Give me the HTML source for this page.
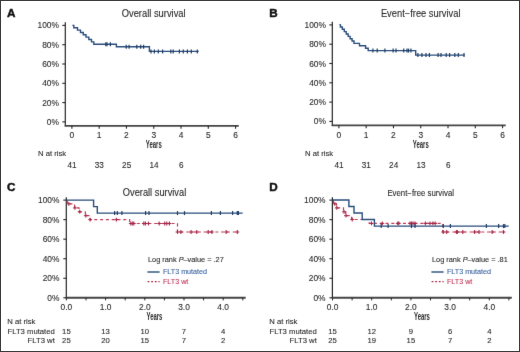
<!DOCTYPE html>
<html><head><meta charset="utf-8"><style>
html,body{margin:0;padding:0;background:#fff;}
.wrap{position:relative;width:520px;height:352px;overflow:hidden;background:#fff;}
.wrap svg{position:absolute;left:0;top:0;will-change:transform;}
text{font-family:"Liberation Sans", sans-serif;}
</style></head><body><div class="wrap">
<svg width="520" height="352" viewBox="0 0 520 352" font-family='"Liberation Sans", sans-serif'>
<defs><filter id="soft" x="0" y="0" width="100%" height="100%" color-interpolation-filters="sRGB"><feConvolveMatrix order="3" kernelMatrix="0 1 0 1 12 1 0 1 0" divisor="16" edgeMode="duplicate"/></filter></defs>
<g filter="url(#soft)">
<rect x="0" y="0" width="520" height="352" fill="#fff"/>
<line x1="65.30" y1="22.20" x2="65.30" y2="126.35" stroke="#262626" stroke-width="1.2" />
<line x1="64.70" y1="125.85" x2="238.75" y2="125.85" stroke="#454545" stroke-width="1.8" />
<line x1="62.30" y1="121.90" x2="65.30" y2="121.90" stroke="#262626" stroke-width="1.1" />
<text x="58.90" y="124.90" font-size="8.4" text-anchor="end" fill="#2a2a2a" stroke="#2a2a2a" stroke-width="0.1" font-weight="normal" >0%</text>
<line x1="62.30" y1="102.60" x2="65.30" y2="102.60" stroke="#262626" stroke-width="1.1" />
<text x="58.90" y="105.60" font-size="8.4" text-anchor="end" fill="#2a2a2a" stroke="#2a2a2a" stroke-width="0.1" font-weight="normal" >20%</text>
<line x1="62.30" y1="83.30" x2="65.30" y2="83.30" stroke="#262626" stroke-width="1.1" />
<text x="58.90" y="86.30" font-size="8.4" text-anchor="end" fill="#2a2a2a" stroke="#2a2a2a" stroke-width="0.1" font-weight="normal" >40%</text>
<line x1="62.30" y1="64.00" x2="65.30" y2="64.00" stroke="#262626" stroke-width="1.1" />
<text x="58.90" y="67.00" font-size="8.4" text-anchor="end" fill="#2a2a2a" stroke="#2a2a2a" stroke-width="0.1" font-weight="normal" >60%</text>
<line x1="62.30" y1="44.70" x2="65.30" y2="44.70" stroke="#262626" stroke-width="1.1" />
<text x="58.90" y="47.70" font-size="8.4" text-anchor="end" fill="#2a2a2a" stroke="#2a2a2a" stroke-width="0.1" font-weight="normal" >80%</text>
<line x1="62.30" y1="25.40" x2="65.30" y2="25.40" stroke="#262626" stroke-width="1.1" />
<text x="58.90" y="28.40" font-size="8.4" text-anchor="end" fill="#2a2a2a" stroke="#2a2a2a" stroke-width="0.1" font-weight="normal" >100%</text>
<line x1="71.90" y1="125.85" x2="71.90" y2="128.65" stroke="#262626" stroke-width="1.1" />
<text x="71.90" y="138.15" font-size="8.4" text-anchor="middle" fill="#2a2a2a" stroke="#2a2a2a" stroke-width="0.1" font-weight="normal" >0</text>
<line x1="99.18" y1="125.85" x2="99.18" y2="128.65" stroke="#262626" stroke-width="1.1" />
<text x="99.18" y="138.15" font-size="8.4" text-anchor="middle" fill="#2a2a2a" stroke="#2a2a2a" stroke-width="0.1" font-weight="normal" >1</text>
<line x1="126.46" y1="125.85" x2="126.46" y2="128.65" stroke="#262626" stroke-width="1.1" />
<text x="126.46" y="138.15" font-size="8.4" text-anchor="middle" fill="#2a2a2a" stroke="#2a2a2a" stroke-width="0.1" font-weight="normal" >2</text>
<line x1="153.74" y1="125.85" x2="153.74" y2="128.65" stroke="#262626" stroke-width="1.1" />
<text x="153.74" y="138.15" font-size="8.4" text-anchor="middle" fill="#2a2a2a" stroke="#2a2a2a" stroke-width="0.1" font-weight="normal" >3</text>
<line x1="181.02" y1="125.85" x2="181.02" y2="128.65" stroke="#262626" stroke-width="1.1" />
<text x="181.02" y="138.15" font-size="8.4" text-anchor="middle" fill="#2a2a2a" stroke="#2a2a2a" stroke-width="0.1" font-weight="normal" >4</text>
<line x1="208.30" y1="125.85" x2="208.30" y2="128.65" stroke="#262626" stroke-width="1.1" />
<text x="208.30" y="138.15" font-size="8.4" text-anchor="middle" fill="#2a2a2a" stroke="#2a2a2a" stroke-width="0.1" font-weight="normal" >5</text>
<line x1="235.58" y1="125.85" x2="235.58" y2="128.65" stroke="#262626" stroke-width="1.1" />
<text x="235.58" y="138.15" font-size="8.4" text-anchor="middle" fill="#2a2a2a" stroke="#2a2a2a" stroke-width="0.1" font-weight="normal" >6</text>
<text x="145.80" y="147.90" font-size="10.2" font-weight="bold" fill="#2a2a2a" textLength="15.9" lengthAdjust="spacingAndGlyphs">Years</text>
<text x="38.00" y="155.80" font-size="7.7" text-anchor="start" fill="#2a2a2a" stroke="#2a2a2a" stroke-width="0.1" font-weight="normal" >N at risk</text>
<text x="72.10" y="167.60" font-size="8.2" text-anchor="middle" fill="#2a2a2a" stroke="#2a2a2a" stroke-width="0.1" font-weight="normal" >41</text>
<text x="99.38" y="167.60" font-size="8.2" text-anchor="middle" fill="#2a2a2a" stroke="#2a2a2a" stroke-width="0.1" font-weight="normal" >33</text>
<text x="126.66" y="167.60" font-size="8.2" text-anchor="middle" fill="#2a2a2a" stroke="#2a2a2a" stroke-width="0.1" font-weight="normal" >25</text>
<text x="153.94" y="167.60" font-size="8.2" text-anchor="middle" fill="#2a2a2a" stroke="#2a2a2a" stroke-width="0.1" font-weight="normal" >14</text>
<text x="181.22" y="167.60" font-size="8.2" text-anchor="middle" fill="#2a2a2a" stroke="#2a2a2a" stroke-width="0.1" font-weight="normal" >6</text>
<text x="121.70" y="17.10" font-size="10.0" text-anchor="start" fill="#2a2a2a" stroke="#2a2a2a" stroke-width="0.1" font-weight="normal"  textLength="63.9" lengthAdjust="spacingAndGlyphs">Overall survival</text>
<path d="M72.40,25.40 H73.80 V27.75 H77.50 V30.10 H80.50 V32.45 H83.30 V34.80 H86.00 V37.15 H88.80 V39.50 H91.50 V41.85 H93.80 V44.20 H116.40 V46.70 H149.40 V51.40 H198.75 V51.40" fill="none" stroke="#2a4d7c" stroke-width="1.4"/>
<line x1="105.80" y1="42.20" x2="105.80" y2="46.20" stroke="#1f3d66" stroke-width="1.2" />
<line x1="107.00" y1="42.20" x2="107.00" y2="46.20" stroke="#1f3d66" stroke-width="1.2" />
<line x1="110.40" y1="42.20" x2="110.40" y2="46.20" stroke="#1f3d66" stroke-width="1.2" />
<line x1="126.25" y1="44.70" x2="126.25" y2="48.70" stroke="#1f3d66" stroke-width="1.2" />
<line x1="129.10" y1="44.70" x2="129.10" y2="48.70" stroke="#1f3d66" stroke-width="1.2" />
<line x1="136.80" y1="44.70" x2="136.80" y2="48.70" stroke="#1f3d66" stroke-width="1.2" />
<line x1="140.70" y1="44.70" x2="140.70" y2="48.70" stroke="#1f3d66" stroke-width="1.2" />
<line x1="143.60" y1="44.70" x2="143.60" y2="48.70" stroke="#1f3d66" stroke-width="1.2" />
<line x1="151.00" y1="49.40" x2="151.00" y2="53.40" stroke="#1f3d66" stroke-width="1.2" />
<line x1="154.40" y1="49.40" x2="154.40" y2="53.40" stroke="#1f3d66" stroke-width="1.2" />
<line x1="158.30" y1="49.40" x2="158.30" y2="53.40" stroke="#1f3d66" stroke-width="1.2" />
<line x1="162.60" y1="49.40" x2="162.60" y2="53.40" stroke="#1f3d66" stroke-width="1.2" />
<line x1="170.80" y1="49.40" x2="170.80" y2="53.40" stroke="#1f3d66" stroke-width="1.2" />
<line x1="173.20" y1="49.40" x2="173.20" y2="53.40" stroke="#1f3d66" stroke-width="1.2" />
<line x1="179.40" y1="49.40" x2="179.40" y2="53.40" stroke="#1f3d66" stroke-width="1.2" />
<line x1="183.30" y1="49.40" x2="183.30" y2="53.40" stroke="#1f3d66" stroke-width="1.2" />
<line x1="187.40" y1="49.40" x2="187.40" y2="53.40" stroke="#1f3d66" stroke-width="1.2" />
<line x1="191.30" y1="49.40" x2="191.30" y2="53.40" stroke="#1f3d66" stroke-width="1.2" />
<line x1="197.30" y1="49.40" x2="197.30" y2="53.40" stroke="#1f3d66" stroke-width="1.2" />
<line x1="332.30" y1="21.70" x2="332.30" y2="125.95" stroke="#262626" stroke-width="1.2" />
<line x1="331.70" y1="125.45" x2="505.75" y2="125.45" stroke="#454545" stroke-width="1.8" />
<line x1="329.30" y1="121.40" x2="332.30" y2="121.40" stroke="#262626" stroke-width="1.1" />
<text x="325.90" y="124.40" font-size="8.4" text-anchor="end" fill="#2a2a2a" stroke="#2a2a2a" stroke-width="0.1" font-weight="normal" >0%</text>
<line x1="329.30" y1="102.10" x2="332.30" y2="102.10" stroke="#262626" stroke-width="1.1" />
<text x="325.90" y="105.10" font-size="8.4" text-anchor="end" fill="#2a2a2a" stroke="#2a2a2a" stroke-width="0.1" font-weight="normal" >20%</text>
<line x1="329.30" y1="82.80" x2="332.30" y2="82.80" stroke="#262626" stroke-width="1.1" />
<text x="325.90" y="85.80" font-size="8.4" text-anchor="end" fill="#2a2a2a" stroke="#2a2a2a" stroke-width="0.1" font-weight="normal" >40%</text>
<line x1="329.30" y1="63.50" x2="332.30" y2="63.50" stroke="#262626" stroke-width="1.1" />
<text x="325.90" y="66.50" font-size="8.4" text-anchor="end" fill="#2a2a2a" stroke="#2a2a2a" stroke-width="0.1" font-weight="normal" >60%</text>
<line x1="329.30" y1="44.20" x2="332.30" y2="44.20" stroke="#262626" stroke-width="1.1" />
<text x="325.90" y="47.20" font-size="8.4" text-anchor="end" fill="#2a2a2a" stroke="#2a2a2a" stroke-width="0.1" font-weight="normal" >80%</text>
<line x1="329.30" y1="24.90" x2="332.30" y2="24.90" stroke="#262626" stroke-width="1.1" />
<text x="325.90" y="27.90" font-size="8.4" text-anchor="end" fill="#2a2a2a" stroke="#2a2a2a" stroke-width="0.1" font-weight="normal" >100%</text>
<line x1="338.90" y1="125.45" x2="338.90" y2="128.25" stroke="#262626" stroke-width="1.1" />
<text x="338.90" y="137.75" font-size="8.4" text-anchor="middle" fill="#2a2a2a" stroke="#2a2a2a" stroke-width="0.1" font-weight="normal" >0</text>
<line x1="366.18" y1="125.45" x2="366.18" y2="128.25" stroke="#262626" stroke-width="1.1" />
<text x="366.18" y="137.75" font-size="8.4" text-anchor="middle" fill="#2a2a2a" stroke="#2a2a2a" stroke-width="0.1" font-weight="normal" >1</text>
<line x1="393.46" y1="125.45" x2="393.46" y2="128.25" stroke="#262626" stroke-width="1.1" />
<text x="393.46" y="137.75" font-size="8.4" text-anchor="middle" fill="#2a2a2a" stroke="#2a2a2a" stroke-width="0.1" font-weight="normal" >2</text>
<line x1="420.74" y1="125.45" x2="420.74" y2="128.25" stroke="#262626" stroke-width="1.1" />
<text x="420.74" y="137.75" font-size="8.4" text-anchor="middle" fill="#2a2a2a" stroke="#2a2a2a" stroke-width="0.1" font-weight="normal" >3</text>
<line x1="448.02" y1="125.45" x2="448.02" y2="128.25" stroke="#262626" stroke-width="1.1" />
<text x="448.02" y="137.75" font-size="8.4" text-anchor="middle" fill="#2a2a2a" stroke="#2a2a2a" stroke-width="0.1" font-weight="normal" >4</text>
<line x1="475.30" y1="125.45" x2="475.30" y2="128.25" stroke="#262626" stroke-width="1.1" />
<text x="475.30" y="137.75" font-size="8.4" text-anchor="middle" fill="#2a2a2a" stroke="#2a2a2a" stroke-width="0.1" font-weight="normal" >5</text>
<line x1="502.58" y1="125.45" x2="502.58" y2="128.25" stroke="#262626" stroke-width="1.1" />
<text x="502.58" y="137.75" font-size="8.4" text-anchor="middle" fill="#2a2a2a" stroke="#2a2a2a" stroke-width="0.1" font-weight="normal" >6</text>
<text x="412.80" y="147.90" font-size="10.2" font-weight="bold" fill="#2a2a2a" textLength="15.9" lengthAdjust="spacingAndGlyphs">Years</text>
<text x="305.00" y="155.80" font-size="7.7" text-anchor="start" fill="#2a2a2a" stroke="#2a2a2a" stroke-width="0.1" font-weight="normal" >N at risk</text>
<text x="339.10" y="167.60" font-size="8.2" text-anchor="middle" fill="#2a2a2a" stroke="#2a2a2a" stroke-width="0.1" font-weight="normal" >41</text>
<text x="366.38" y="167.60" font-size="8.2" text-anchor="middle" fill="#2a2a2a" stroke="#2a2a2a" stroke-width="0.1" font-weight="normal" >31</text>
<text x="393.66" y="167.60" font-size="8.2" text-anchor="middle" fill="#2a2a2a" stroke="#2a2a2a" stroke-width="0.1" font-weight="normal" >24</text>
<text x="420.94" y="167.60" font-size="8.2" text-anchor="middle" fill="#2a2a2a" stroke="#2a2a2a" stroke-width="0.1" font-weight="normal" >13</text>
<text x="448.22" y="167.60" font-size="8.2" text-anchor="middle" fill="#2a2a2a" stroke="#2a2a2a" stroke-width="0.1" font-weight="normal" >6</text>
<text x="380.90" y="17.10" font-size="10.0" text-anchor="start" fill="#2a2a2a" stroke="#2a2a2a" stroke-width="0.1" font-weight="normal"  textLength="79.6" lengthAdjust="spacingAndGlyphs">Event−free survival</text>
<path d="M339.50,24.60 H340.40 V26.95 H342.34 V29.30 H344.29 V31.65 H346.23 V34.00 H348.17 V36.35 H350.11 V38.70 H352.06 V41.05 H354.00 V43.40 H359.50 V45.80 H365.60 V48.20 H368.20 V50.60 H415.70 V55.10 H464.60 V55.10" fill="none" stroke="#2a4d7c" stroke-width="1.4"/>
<line x1="372.90" y1="48.60" x2="372.90" y2="52.60" stroke="#1f3d66" stroke-width="1.2" />
<line x1="377.20" y1="48.60" x2="377.20" y2="52.60" stroke="#1f3d66" stroke-width="1.2" />
<line x1="384.90" y1="48.60" x2="384.90" y2="52.60" stroke="#1f3d66" stroke-width="1.2" />
<line x1="393.10" y1="48.60" x2="393.10" y2="52.60" stroke="#1f3d66" stroke-width="1.2" />
<line x1="396.00" y1="48.60" x2="396.00" y2="52.60" stroke="#1f3d66" stroke-width="1.2" />
<line x1="403.70" y1="48.60" x2="403.70" y2="52.60" stroke="#1f3d66" stroke-width="1.2" />
<line x1="407.00" y1="48.60" x2="407.00" y2="52.60" stroke="#1f3d66" stroke-width="1.2" />
<line x1="408.50" y1="48.60" x2="408.50" y2="52.60" stroke="#1f3d66" stroke-width="1.2" />
<line x1="410.90" y1="48.60" x2="410.90" y2="52.60" stroke="#1f3d66" stroke-width="1.2" />
<line x1="417.90" y1="53.10" x2="417.90" y2="57.10" stroke="#1f3d66" stroke-width="1.2" />
<line x1="421.90" y1="53.10" x2="421.90" y2="57.10" stroke="#1f3d66" stroke-width="1.2" />
<line x1="426.00" y1="53.10" x2="426.00" y2="57.10" stroke="#1f3d66" stroke-width="1.2" />
<line x1="429.40" y1="53.10" x2="429.40" y2="57.10" stroke="#1f3d66" stroke-width="1.2" />
<line x1="438.10" y1="53.10" x2="438.10" y2="57.10" stroke="#1f3d66" stroke-width="1.2" />
<line x1="441.00" y1="53.10" x2="441.00" y2="57.10" stroke="#1f3d66" stroke-width="1.2" />
<line x1="446.20" y1="53.10" x2="446.20" y2="57.10" stroke="#1f3d66" stroke-width="1.2" />
<line x1="449.60" y1="53.10" x2="449.60" y2="57.10" stroke="#1f3d66" stroke-width="1.2" />
<line x1="454.80" y1="53.10" x2="454.80" y2="57.10" stroke="#1f3d66" stroke-width="1.2" />
<line x1="458.30" y1="53.10" x2="458.30" y2="57.10" stroke="#1f3d66" stroke-width="1.2" />
<line x1="464.00" y1="53.10" x2="464.00" y2="57.10" stroke="#1f3d66" stroke-width="1.2" />
<line x1="66.30" y1="197.20" x2="66.30" y2="298.30" stroke="#262626" stroke-width="1.2" />
<line x1="65.70" y1="297.80" x2="245.70" y2="297.80" stroke="#454545" stroke-width="1.9" />
<line x1="63.30" y1="297.80" x2="66.30" y2="297.80" stroke="#262626" stroke-width="1.1" />
<text x="59.40" y="300.80" font-size="8.4" text-anchor="end" fill="#2a2a2a" stroke="#2a2a2a" stroke-width="0.1" font-weight="normal" >0%</text>
<line x1="63.30" y1="278.26" x2="66.30" y2="278.26" stroke="#262626" stroke-width="1.1" />
<text x="59.40" y="281.26" font-size="8.4" text-anchor="end" fill="#2a2a2a" stroke="#2a2a2a" stroke-width="0.1" font-weight="normal" >20%</text>
<line x1="63.30" y1="258.72" x2="66.30" y2="258.72" stroke="#262626" stroke-width="1.1" />
<text x="59.40" y="261.72" font-size="8.4" text-anchor="end" fill="#2a2a2a" stroke="#2a2a2a" stroke-width="0.1" font-weight="normal" >40%</text>
<line x1="63.30" y1="239.18" x2="66.30" y2="239.18" stroke="#262626" stroke-width="1.1" />
<text x="59.40" y="242.18" font-size="8.4" text-anchor="end" fill="#2a2a2a" stroke="#2a2a2a" stroke-width="0.1" font-weight="normal" >60%</text>
<line x1="63.30" y1="219.64" x2="66.30" y2="219.64" stroke="#262626" stroke-width="1.1" />
<text x="59.40" y="222.64" font-size="8.4" text-anchor="end" fill="#2a2a2a" stroke="#2a2a2a" stroke-width="0.1" font-weight="normal" >80%</text>
<line x1="63.30" y1="200.10" x2="66.30" y2="200.10" stroke="#262626" stroke-width="1.1" />
<text x="59.40" y="203.10" font-size="8.4" text-anchor="end" fill="#2a2a2a" stroke="#2a2a2a" stroke-width="0.1" font-weight="normal" >100%</text>
<line x1="66.40" y1="297.80" x2="66.40" y2="300.40" stroke="#262626" stroke-width="1.0" />
<line x1="86.00" y1="297.80" x2="86.00" y2="300.40" stroke="#262626" stroke-width="1.0" />
<line x1="105.60" y1="297.80" x2="105.60" y2="300.40" stroke="#262626" stroke-width="1.0" />
<line x1="125.20" y1="297.80" x2="125.20" y2="300.40" stroke="#262626" stroke-width="1.0" />
<line x1="144.80" y1="297.80" x2="144.80" y2="300.40" stroke="#262626" stroke-width="1.0" />
<line x1="164.40" y1="297.80" x2="164.40" y2="300.40" stroke="#262626" stroke-width="1.0" />
<line x1="184.00" y1="297.80" x2="184.00" y2="300.40" stroke="#262626" stroke-width="1.0" />
<line x1="203.60" y1="297.80" x2="203.60" y2="300.40" stroke="#262626" stroke-width="1.0" />
<line x1="223.20" y1="297.80" x2="223.20" y2="300.40" stroke="#262626" stroke-width="1.0" />
<line x1="242.80" y1="297.80" x2="242.80" y2="300.40" stroke="#262626" stroke-width="1.0" />
<text x="66.40" y="309.90" font-size="8.4" text-anchor="middle" fill="#2a2a2a" stroke="#2a2a2a" stroke-width="0.1" font-weight="normal" >0.0</text>
<text x="105.60" y="309.90" font-size="8.4" text-anchor="middle" fill="#2a2a2a" stroke="#2a2a2a" stroke-width="0.1" font-weight="normal" >1.0</text>
<text x="144.80" y="309.90" font-size="8.4" text-anchor="middle" fill="#2a2a2a" stroke="#2a2a2a" stroke-width="0.1" font-weight="normal" >2.0</text>
<text x="184.00" y="309.90" font-size="8.4" text-anchor="middle" fill="#2a2a2a" stroke="#2a2a2a" stroke-width="0.1" font-weight="normal" >3.0</text>
<text x="223.20" y="309.90" font-size="8.4" text-anchor="middle" fill="#2a2a2a" stroke="#2a2a2a" stroke-width="0.1" font-weight="normal" >4.0</text>
<text x="146.50" y="319.80" font-size="10.2" font-weight="bold" fill="#2a2a2a" textLength="15.9" lengthAdjust="spacingAndGlyphs">Years</text>
<text x="122.80" y="196.00" font-size="10.0" text-anchor="start" fill="#2a2a2a" stroke="#2a2a2a" stroke-width="0.1" font-weight="normal"  textLength="63.4" lengthAdjust="spacingAndGlyphs">Overall survival</text>
<text x="148.00" y="262.3" font-size="7.35" fill="#2a2a2a" stroke="#2a2a2a" stroke-width="0.1">Log rank <tspan font-style="italic">P</tspan>–value = .27</text>
<line x1="147.40" y1="272.00" x2="159.60" y2="272.00" stroke="#2a4d7c" stroke-width="1.4" />
<text x="162.90" y="274.20" font-size="7.2" text-anchor="start" fill="#3c64a0" stroke="#3c64a0" stroke-width="0.1" font-weight="normal" >FLT3 mutated</text>
<line x1="147.60" y1="281.60" x2="159.60" y2="281.60" stroke="#a42848" stroke-width="1.4" stroke-dasharray="1.8 1.8"/>
<text x="162.90" y="283.80" font-size="7.2" text-anchor="start" fill="#c2375a" stroke="#c2375a" stroke-width="0.1" font-weight="normal" >FLT3 wt</text>
<text x="7.20" y="324.10" font-size="7.7" text-anchor="start" fill="#2a2a2a" stroke="#2a2a2a" stroke-width="0.1" font-weight="normal" >N at risk</text>
<text x="54.80" y="333.60" font-size="7.7" text-anchor="end" fill="#2a2a2a" stroke="#2a2a2a" stroke-width="0.1" font-weight="normal" >FLT3 mutated</text>
<text x="54.80" y="342.90" font-size="7.7" text-anchor="end" fill="#2a2a2a" stroke="#2a2a2a" stroke-width="0.1" font-weight="normal" >FLT3 wt</text>
<text x="66.40" y="333.60" font-size="7.7" text-anchor="middle" fill="#2a2a2a" stroke="#2a2a2a" stroke-width="0.1" font-weight="normal" >15</text>
<text x="66.40" y="342.90" font-size="7.7" text-anchor="middle" fill="#2a2a2a" stroke="#2a2a2a" stroke-width="0.1" font-weight="normal" >25</text>
<text x="105.60" y="333.60" font-size="7.7" text-anchor="middle" fill="#2a2a2a" stroke="#2a2a2a" stroke-width="0.1" font-weight="normal" >13</text>
<text x="105.60" y="342.90" font-size="7.7" text-anchor="middle" fill="#2a2a2a" stroke="#2a2a2a" stroke-width="0.1" font-weight="normal" >20</text>
<text x="144.80" y="333.60" font-size="7.7" text-anchor="middle" fill="#2a2a2a" stroke="#2a2a2a" stroke-width="0.1" font-weight="normal" >10</text>
<text x="144.80" y="342.90" font-size="7.7" text-anchor="middle" fill="#2a2a2a" stroke="#2a2a2a" stroke-width="0.1" font-weight="normal" >15</text>
<text x="184.00" y="333.60" font-size="7.7" text-anchor="middle" fill="#2a2a2a" stroke="#2a2a2a" stroke-width="0.1" font-weight="normal" >7</text>
<text x="184.00" y="342.90" font-size="7.7" text-anchor="middle" fill="#2a2a2a" stroke="#2a2a2a" stroke-width="0.1" font-weight="normal" >7</text>
<text x="223.20" y="333.60" font-size="7.7" text-anchor="middle" fill="#2a2a2a" stroke="#2a2a2a" stroke-width="0.1" font-weight="normal" >4</text>
<text x="223.20" y="342.90" font-size="7.7" text-anchor="middle" fill="#2a2a2a" stroke="#2a2a2a" stroke-width="0.1" font-weight="normal" >2</text>
<path d="M66.40,200.10 H67.30 V203.90 H74.60 V207.90 H79.00 V211.80 H85.30 V215.70 H89.80 V219.60 H129.60 V223.50 H177.50 V232.00 H238.40 V232.00" fill="none" stroke="#c2375a" stroke-width="1.2" stroke-dasharray="3 2.8" stroke-dashoffset="-1.0"/>
<line x1="68.80" y1="201.90" x2="68.80" y2="205.70" stroke="#a42848" stroke-width="1.1" />
<line x1="66.90" y1="203.80" x2="70.70" y2="203.80" stroke="#a42848" stroke-width="1.1" />
<line x1="74.90" y1="206.00" x2="74.90" y2="209.80" stroke="#a42848" stroke-width="1.1" />
<line x1="73.00" y1="207.90" x2="76.80" y2="207.90" stroke="#a42848" stroke-width="1.1" />
<line x1="79.70" y1="209.80" x2="79.70" y2="213.60" stroke="#a42848" stroke-width="1.1" />
<line x1="77.80" y1="211.70" x2="81.60" y2="211.70" stroke="#a42848" stroke-width="1.1" />
<line x1="85.80" y1="213.80" x2="85.80" y2="217.60" stroke="#a42848" stroke-width="1.1" />
<line x1="83.90" y1="215.70" x2="87.70" y2="215.70" stroke="#a42848" stroke-width="1.1" />
<line x1="90.20" y1="217.70" x2="90.20" y2="221.50" stroke="#a42848" stroke-width="1.1" />
<line x1="88.30" y1="219.60" x2="92.10" y2="219.60" stroke="#a42848" stroke-width="1.1" />
<line x1="116.40" y1="217.70" x2="116.40" y2="221.50" stroke="#a42848" stroke-width="1.1" />
<line x1="114.50" y1="219.60" x2="118.30" y2="219.60" stroke="#a42848" stroke-width="1.1" />
<line x1="130.80" y1="221.60" x2="130.80" y2="225.40" stroke="#a42848" stroke-width="1.1" />
<line x1="128.90" y1="223.50" x2="132.70" y2="223.50" stroke="#a42848" stroke-width="1.1" />
<line x1="132.30" y1="221.60" x2="132.30" y2="225.40" stroke="#a42848" stroke-width="1.1" />
<line x1="130.40" y1="223.50" x2="134.20" y2="223.50" stroke="#a42848" stroke-width="1.1" />
<line x1="133.80" y1="221.60" x2="133.80" y2="225.40" stroke="#a42848" stroke-width="1.1" />
<line x1="131.90" y1="223.50" x2="135.70" y2="223.50" stroke="#a42848" stroke-width="1.1" />
<line x1="143.80" y1="221.60" x2="143.80" y2="225.40" stroke="#a42848" stroke-width="1.1" />
<line x1="141.90" y1="223.50" x2="145.70" y2="223.50" stroke="#a42848" stroke-width="1.1" />
<line x1="145.40" y1="221.60" x2="145.40" y2="225.40" stroke="#a42848" stroke-width="1.1" />
<line x1="143.50" y1="223.50" x2="147.30" y2="223.50" stroke="#a42848" stroke-width="1.1" />
<line x1="148.50" y1="221.60" x2="148.50" y2="225.40" stroke="#a42848" stroke-width="1.1" />
<line x1="146.60" y1="223.50" x2="150.40" y2="223.50" stroke="#a42848" stroke-width="1.1" />
<line x1="159.20" y1="221.60" x2="159.20" y2="225.40" stroke="#a42848" stroke-width="1.1" />
<line x1="157.30" y1="223.50" x2="161.10" y2="223.50" stroke="#a42848" stroke-width="1.1" />
<line x1="164.70" y1="221.60" x2="164.70" y2="225.40" stroke="#a42848" stroke-width="1.1" />
<line x1="162.80" y1="223.50" x2="166.60" y2="223.50" stroke="#a42848" stroke-width="1.1" />
<line x1="166.80" y1="221.60" x2="166.80" y2="225.40" stroke="#a42848" stroke-width="1.1" />
<line x1="164.90" y1="223.50" x2="168.70" y2="223.50" stroke="#a42848" stroke-width="1.1" />
<line x1="169.40" y1="221.60" x2="169.40" y2="225.40" stroke="#a42848" stroke-width="1.1" />
<line x1="167.50" y1="223.50" x2="171.30" y2="223.50" stroke="#a42848" stroke-width="1.1" />
<line x1="177.50" y1="230.10" x2="177.50" y2="233.90" stroke="#a42848" stroke-width="1.1" />
<line x1="175.60" y1="232.00" x2="179.40" y2="232.00" stroke="#a42848" stroke-width="1.1" />
<line x1="180.90" y1="230.10" x2="180.90" y2="233.90" stroke="#a42848" stroke-width="1.1" />
<line x1="179.00" y1="232.00" x2="182.80" y2="232.00" stroke="#a42848" stroke-width="1.1" />
<line x1="191.10" y1="230.10" x2="191.10" y2="233.90" stroke="#a42848" stroke-width="1.1" />
<line x1="189.20" y1="232.00" x2="193.00" y2="232.00" stroke="#a42848" stroke-width="1.1" />
<line x1="196.70" y1="230.10" x2="196.70" y2="233.90" stroke="#a42848" stroke-width="1.1" />
<line x1="194.80" y1="232.00" x2="198.60" y2="232.00" stroke="#a42848" stroke-width="1.1" />
<line x1="208.20" y1="230.10" x2="208.20" y2="233.90" stroke="#a42848" stroke-width="1.1" />
<line x1="206.30" y1="232.00" x2="210.10" y2="232.00" stroke="#a42848" stroke-width="1.1" />
<line x1="211.90" y1="230.10" x2="211.90" y2="233.90" stroke="#a42848" stroke-width="1.1" />
<line x1="210.00" y1="232.00" x2="213.80" y2="232.00" stroke="#a42848" stroke-width="1.1" />
<line x1="226.20" y1="230.10" x2="226.20" y2="233.90" stroke="#a42848" stroke-width="1.1" />
<line x1="224.30" y1="232.00" x2="228.10" y2="232.00" stroke="#a42848" stroke-width="1.1" />
<line x1="237.30" y1="230.10" x2="237.30" y2="233.90" stroke="#a42848" stroke-width="1.1" />
<line x1="235.40" y1="232.00" x2="239.20" y2="232.00" stroke="#a42848" stroke-width="1.1" />
<path d="M66.30,200.10 H93.60 V206.60 H97.30 V213.10 H242.60 V213.10" fill="none" stroke="#2a4d7c" stroke-width="1.4"/>
<line x1="114.60" y1="211.10" x2="114.60" y2="215.10" stroke="#1f3d66" stroke-width="1.2" />
<line x1="117.30" y1="211.10" x2="117.30" y2="215.10" stroke="#1f3d66" stroke-width="1.2" />
<line x1="121.90" y1="211.10" x2="121.90" y2="215.10" stroke="#1f3d66" stroke-width="1.2" />
<line x1="145.60" y1="211.10" x2="145.60" y2="215.10" stroke="#1f3d66" stroke-width="1.2" />
<line x1="149.00" y1="211.10" x2="149.00" y2="215.10" stroke="#1f3d66" stroke-width="1.2" />
<line x1="177.50" y1="211.10" x2="177.50" y2="215.10" stroke="#1f3d66" stroke-width="1.2" />
<line x1="184.50" y1="211.10" x2="184.50" y2="215.10" stroke="#1f3d66" stroke-width="1.2" />
<line x1="211.40" y1="211.10" x2="211.40" y2="215.10" stroke="#1f3d66" stroke-width="1.2" />
<line x1="220.40" y1="211.10" x2="220.40" y2="215.10" stroke="#1f3d66" stroke-width="1.2" />
<line x1="232.60" y1="211.10" x2="232.60" y2="215.10" stroke="#1f3d66" stroke-width="1.2" />
<line x1="237.30" y1="211.10" x2="237.30" y2="215.10" stroke="#1f3d66" stroke-width="1.2" />
<line x1="238.40" y1="211.10" x2="238.40" y2="215.10" stroke="#1f3d66" stroke-width="1.2" />
<line x1="332.40" y1="197.20" x2="332.40" y2="298.30" stroke="#262626" stroke-width="1.2" />
<line x1="331.80" y1="297.80" x2="511.80" y2="297.80" stroke="#454545" stroke-width="1.9" />
<line x1="329.40" y1="297.80" x2="332.40" y2="297.80" stroke="#262626" stroke-width="1.1" />
<text x="325.50" y="300.80" font-size="8.4" text-anchor="end" fill="#2a2a2a" stroke="#2a2a2a" stroke-width="0.1" font-weight="normal" >0%</text>
<line x1="329.40" y1="278.26" x2="332.40" y2="278.26" stroke="#262626" stroke-width="1.1" />
<text x="325.50" y="281.26" font-size="8.4" text-anchor="end" fill="#2a2a2a" stroke="#2a2a2a" stroke-width="0.1" font-weight="normal" >20%</text>
<line x1="329.40" y1="258.72" x2="332.40" y2="258.72" stroke="#262626" stroke-width="1.1" />
<text x="325.50" y="261.72" font-size="8.4" text-anchor="end" fill="#2a2a2a" stroke="#2a2a2a" stroke-width="0.1" font-weight="normal" >40%</text>
<line x1="329.40" y1="239.18" x2="332.40" y2="239.18" stroke="#262626" stroke-width="1.1" />
<text x="325.50" y="242.18" font-size="8.4" text-anchor="end" fill="#2a2a2a" stroke="#2a2a2a" stroke-width="0.1" font-weight="normal" >60%</text>
<line x1="329.40" y1="219.64" x2="332.40" y2="219.64" stroke="#262626" stroke-width="1.1" />
<text x="325.50" y="222.64" font-size="8.4" text-anchor="end" fill="#2a2a2a" stroke="#2a2a2a" stroke-width="0.1" font-weight="normal" >80%</text>
<line x1="329.40" y1="200.10" x2="332.40" y2="200.10" stroke="#262626" stroke-width="1.1" />
<text x="325.50" y="203.10" font-size="8.4" text-anchor="end" fill="#2a2a2a" stroke="#2a2a2a" stroke-width="0.1" font-weight="normal" >100%</text>
<line x1="332.50" y1="297.80" x2="332.50" y2="300.40" stroke="#262626" stroke-width="1.0" />
<line x1="352.10" y1="297.80" x2="352.10" y2="300.40" stroke="#262626" stroke-width="1.0" />
<line x1="371.70" y1="297.80" x2="371.70" y2="300.40" stroke="#262626" stroke-width="1.0" />
<line x1="391.30" y1="297.80" x2="391.30" y2="300.40" stroke="#262626" stroke-width="1.0" />
<line x1="410.90" y1="297.80" x2="410.90" y2="300.40" stroke="#262626" stroke-width="1.0" />
<line x1="430.50" y1="297.80" x2="430.50" y2="300.40" stroke="#262626" stroke-width="1.0" />
<line x1="450.10" y1="297.80" x2="450.10" y2="300.40" stroke="#262626" stroke-width="1.0" />
<line x1="469.70" y1="297.80" x2="469.70" y2="300.40" stroke="#262626" stroke-width="1.0" />
<line x1="489.30" y1="297.80" x2="489.30" y2="300.40" stroke="#262626" stroke-width="1.0" />
<line x1="508.90" y1="297.80" x2="508.90" y2="300.40" stroke="#262626" stroke-width="1.0" />
<text x="332.50" y="309.90" font-size="8.4" text-anchor="middle" fill="#2a2a2a" stroke="#2a2a2a" stroke-width="0.1" font-weight="normal" >0.0</text>
<text x="371.70" y="309.90" font-size="8.4" text-anchor="middle" fill="#2a2a2a" stroke="#2a2a2a" stroke-width="0.1" font-weight="normal" >1.0</text>
<text x="410.90" y="309.90" font-size="8.4" text-anchor="middle" fill="#2a2a2a" stroke="#2a2a2a" stroke-width="0.1" font-weight="normal" >2.0</text>
<text x="450.10" y="309.90" font-size="8.4" text-anchor="middle" fill="#2a2a2a" stroke="#2a2a2a" stroke-width="0.1" font-weight="normal" >3.0</text>
<text x="489.30" y="309.90" font-size="8.4" text-anchor="middle" fill="#2a2a2a" stroke="#2a2a2a" stroke-width="0.1" font-weight="normal" >4.0</text>
<text x="414.00" y="319.80" font-size="10.2" font-weight="bold" fill="#2a2a2a" textLength="15.9" lengthAdjust="spacingAndGlyphs">Years</text>
<text x="387.40" y="196.00" font-size="8.2" text-anchor="start" fill="#2a2a2a" stroke="#2a2a2a" stroke-width="0.1" font-weight="normal"  textLength="66.6" lengthAdjust="spacingAndGlyphs">Event−free survival</text>
<text x="432.00" y="262.3" font-size="7.35" fill="#2a2a2a" stroke="#2a2a2a" stroke-width="0.1">Log rank <tspan font-style="italic">P</tspan>–value = .81</text>
<line x1="431.40" y1="272.00" x2="443.60" y2="272.00" stroke="#2a4d7c" stroke-width="1.4" />
<text x="446.90" y="274.20" font-size="7.2" text-anchor="start" fill="#3c64a0" stroke="#3c64a0" stroke-width="0.1" font-weight="normal" >FLT3 mutated</text>
<line x1="431.60" y1="281.60" x2="443.60" y2="281.60" stroke="#a42848" stroke-width="1.4" stroke-dasharray="1.8 1.8"/>
<text x="446.90" y="283.80" font-size="7.2" text-anchor="start" fill="#c2375a" stroke="#c2375a" stroke-width="0.1" font-weight="normal" >FLT3 wt</text>
<text x="269.20" y="324.10" font-size="7.7" text-anchor="start" fill="#2a2a2a" stroke="#2a2a2a" stroke-width="0.1" font-weight="normal" >N at risk</text>
<text x="316.80" y="333.60" font-size="7.7" text-anchor="end" fill="#2a2a2a" stroke="#2a2a2a" stroke-width="0.1" font-weight="normal" >FLT3 mutated</text>
<text x="316.80" y="342.90" font-size="7.7" text-anchor="end" fill="#2a2a2a" stroke="#2a2a2a" stroke-width="0.1" font-weight="normal" >FLT3 wt</text>
<text x="332.50" y="333.60" font-size="7.7" text-anchor="middle" fill="#2a2a2a" stroke="#2a2a2a" stroke-width="0.1" font-weight="normal" >15</text>
<text x="332.50" y="342.90" font-size="7.7" text-anchor="middle" fill="#2a2a2a" stroke="#2a2a2a" stroke-width="0.1" font-weight="normal" >25</text>
<text x="371.70" y="333.60" font-size="7.7" text-anchor="middle" fill="#2a2a2a" stroke="#2a2a2a" stroke-width="0.1" font-weight="normal" >12</text>
<text x="371.70" y="342.90" font-size="7.7" text-anchor="middle" fill="#2a2a2a" stroke="#2a2a2a" stroke-width="0.1" font-weight="normal" >19</text>
<text x="410.90" y="333.60" font-size="7.7" text-anchor="middle" fill="#2a2a2a" stroke="#2a2a2a" stroke-width="0.1" font-weight="normal" >9</text>
<text x="410.90" y="342.90" font-size="7.7" text-anchor="middle" fill="#2a2a2a" stroke="#2a2a2a" stroke-width="0.1" font-weight="normal" >15</text>
<text x="450.10" y="333.60" font-size="7.7" text-anchor="middle" fill="#2a2a2a" stroke="#2a2a2a" stroke-width="0.1" font-weight="normal" >6</text>
<text x="450.10" y="342.90" font-size="7.7" text-anchor="middle" fill="#2a2a2a" stroke="#2a2a2a" stroke-width="0.1" font-weight="normal" >7</text>
<text x="489.30" y="333.60" font-size="7.7" text-anchor="middle" fill="#2a2a2a" stroke="#2a2a2a" stroke-width="0.1" font-weight="normal" >4</text>
<text x="489.30" y="342.90" font-size="7.7" text-anchor="middle" fill="#2a2a2a" stroke="#2a2a2a" stroke-width="0.1" font-weight="normal" >2</text>
<path d="M332.50,200.00 H333.40 V203.80 H336.50 V207.90 H343.50 V211.80 H345.80 V215.70 H351.60 V219.50 H369.20 V223.40 H442.70 V232.00 H504.60 V232.00" fill="none" stroke="#c2375a" stroke-width="1.2" stroke-dasharray="3 2.8" stroke-dashoffset="-1.0"/>
<line x1="334.80" y1="201.90" x2="334.80" y2="205.70" stroke="#a42848" stroke-width="1.1" />
<line x1="332.90" y1="203.80" x2="336.70" y2="203.80" stroke="#a42848" stroke-width="1.1" />
<line x1="336.80" y1="206.00" x2="336.80" y2="209.80" stroke="#a42848" stroke-width="1.1" />
<line x1="334.90" y1="207.90" x2="338.70" y2="207.90" stroke="#a42848" stroke-width="1.1" />
<line x1="344.00" y1="209.90" x2="344.00" y2="213.70" stroke="#a42848" stroke-width="1.1" />
<line x1="342.10" y1="211.80" x2="345.90" y2="211.80" stroke="#a42848" stroke-width="1.1" />
<line x1="346.00" y1="213.80" x2="346.00" y2="217.60" stroke="#a42848" stroke-width="1.1" />
<line x1="344.10" y1="215.70" x2="347.90" y2="215.70" stroke="#a42848" stroke-width="1.1" />
<line x1="352.20" y1="217.60" x2="352.20" y2="221.40" stroke="#a42848" stroke-width="1.1" />
<line x1="350.30" y1="219.50" x2="354.10" y2="219.50" stroke="#a42848" stroke-width="1.1" />
<line x1="371.50" y1="221.50" x2="371.50" y2="225.30" stroke="#a42848" stroke-width="1.1" />
<line x1="369.60" y1="223.40" x2="373.40" y2="223.40" stroke="#a42848" stroke-width="1.1" />
<line x1="382.30" y1="221.50" x2="382.30" y2="225.30" stroke="#a42848" stroke-width="1.1" />
<line x1="380.40" y1="223.40" x2="384.20" y2="223.40" stroke="#a42848" stroke-width="1.1" />
<line x1="397.70" y1="221.50" x2="397.70" y2="225.30" stroke="#a42848" stroke-width="1.1" />
<line x1="395.80" y1="223.40" x2="399.60" y2="223.40" stroke="#a42848" stroke-width="1.1" />
<line x1="398.80" y1="221.50" x2="398.80" y2="225.30" stroke="#a42848" stroke-width="1.1" />
<line x1="396.90" y1="223.40" x2="400.70" y2="223.40" stroke="#a42848" stroke-width="1.1" />
<line x1="410.00" y1="221.50" x2="410.00" y2="225.30" stroke="#a42848" stroke-width="1.1" />
<line x1="408.10" y1="223.40" x2="411.90" y2="223.40" stroke="#a42848" stroke-width="1.1" />
<line x1="411.50" y1="221.50" x2="411.50" y2="225.30" stroke="#a42848" stroke-width="1.1" />
<line x1="409.60" y1="223.40" x2="413.40" y2="223.40" stroke="#a42848" stroke-width="1.1" />
<line x1="413.00" y1="221.50" x2="413.00" y2="225.30" stroke="#a42848" stroke-width="1.1" />
<line x1="411.10" y1="223.40" x2="414.90" y2="223.40" stroke="#a42848" stroke-width="1.1" />
<line x1="415.00" y1="221.50" x2="415.00" y2="225.30" stroke="#a42848" stroke-width="1.1" />
<line x1="413.10" y1="223.40" x2="416.90" y2="223.40" stroke="#a42848" stroke-width="1.1" />
<line x1="425.40" y1="221.50" x2="425.40" y2="225.30" stroke="#a42848" stroke-width="1.1" />
<line x1="423.50" y1="223.40" x2="427.30" y2="223.40" stroke="#a42848" stroke-width="1.1" />
<line x1="430.00" y1="221.50" x2="430.00" y2="225.30" stroke="#a42848" stroke-width="1.1" />
<line x1="428.10" y1="223.40" x2="431.90" y2="223.40" stroke="#a42848" stroke-width="1.1" />
<line x1="432.90" y1="221.50" x2="432.90" y2="225.30" stroke="#a42848" stroke-width="1.1" />
<line x1="431.00" y1="223.40" x2="434.80" y2="223.40" stroke="#a42848" stroke-width="1.1" />
<line x1="435.20" y1="221.50" x2="435.20" y2="225.30" stroke="#a42848" stroke-width="1.1" />
<line x1="433.30" y1="223.40" x2="437.10" y2="223.40" stroke="#a42848" stroke-width="1.1" />
<line x1="443.30" y1="230.10" x2="443.30" y2="233.90" stroke="#a42848" stroke-width="1.1" />
<line x1="441.40" y1="232.00" x2="445.20" y2="232.00" stroke="#a42848" stroke-width="1.1" />
<line x1="446.70" y1="230.10" x2="446.70" y2="233.90" stroke="#a42848" stroke-width="1.1" />
<line x1="444.80" y1="232.00" x2="448.60" y2="232.00" stroke="#a42848" stroke-width="1.1" />
<line x1="456.50" y1="230.10" x2="456.50" y2="233.90" stroke="#a42848" stroke-width="1.1" />
<line x1="454.60" y1="232.00" x2="458.40" y2="232.00" stroke="#a42848" stroke-width="1.1" />
<line x1="457.30" y1="230.10" x2="457.30" y2="233.90" stroke="#a42848" stroke-width="1.1" />
<line x1="455.40" y1="232.00" x2="459.20" y2="232.00" stroke="#a42848" stroke-width="1.1" />
<line x1="462.80" y1="230.10" x2="462.80" y2="233.90" stroke="#a42848" stroke-width="1.1" />
<line x1="460.90" y1="232.00" x2="464.70" y2="232.00" stroke="#a42848" stroke-width="1.1" />
<line x1="474.60" y1="230.10" x2="474.60" y2="233.90" stroke="#a42848" stroke-width="1.1" />
<line x1="472.70" y1="232.00" x2="476.50" y2="232.00" stroke="#a42848" stroke-width="1.1" />
<line x1="479.00" y1="230.10" x2="479.00" y2="233.90" stroke="#a42848" stroke-width="1.1" />
<line x1="477.10" y1="232.00" x2="480.90" y2="232.00" stroke="#a42848" stroke-width="1.1" />
<line x1="492.20" y1="230.10" x2="492.20" y2="233.90" stroke="#a42848" stroke-width="1.1" />
<line x1="490.30" y1="232.00" x2="494.10" y2="232.00" stroke="#a42848" stroke-width="1.1" />
<line x1="503.50" y1="230.10" x2="503.50" y2="233.90" stroke="#a42848" stroke-width="1.1" />
<line x1="501.60" y1="232.00" x2="505.40" y2="232.00" stroke="#a42848" stroke-width="1.1" />
<path d="M332.50,200.00 H348.90 V206.50 H354.00 V213.00 H362.20 V219.50 H374.40 V226.10 H508.70 V226.10" fill="none" stroke="#2a4d7c" stroke-width="1.4"/>
<line x1="381.20" y1="224.10" x2="381.20" y2="228.10" stroke="#1f3d66" stroke-width="1.2" />
<line x1="388.10" y1="224.10" x2="388.10" y2="228.10" stroke="#1f3d66" stroke-width="1.2" />
<line x1="411.50" y1="224.10" x2="411.50" y2="228.10" stroke="#1f3d66" stroke-width="1.2" />
<line x1="415.00" y1="224.10" x2="415.00" y2="228.10" stroke="#1f3d66" stroke-width="1.2" />
<line x1="443.30" y1="224.10" x2="443.30" y2="228.10" stroke="#1f3d66" stroke-width="1.2" />
<line x1="450.40" y1="224.10" x2="450.40" y2="228.10" stroke="#1f3d66" stroke-width="1.2" />
<line x1="486.40" y1="224.10" x2="486.40" y2="228.10" stroke="#1f3d66" stroke-width="1.2" />
<line x1="498.60" y1="224.10" x2="498.60" y2="228.10" stroke="#1f3d66" stroke-width="1.2" />
<line x1="503.50" y1="224.10" x2="503.50" y2="228.10" stroke="#1f3d66" stroke-width="1.2" />
<line x1="504.80" y1="224.10" x2="504.80" y2="228.10" stroke="#1f3d66" stroke-width="1.2" />
<text x="6.90" y="17.10" font-size="11.7" font-weight="bold" fill="#111" stroke="#111" stroke-width="0.45">A</text>
<text x="269.30" y="17.10" font-size="11.7" font-weight="bold" fill="#111" stroke="#111" stroke-width="0.45">B</text>
<text x="6.90" y="191.10" font-size="11.7" font-weight="bold" fill="#111" stroke="#111" stroke-width="0.45">C</text>
<text x="269.30" y="191.10" font-size="11.7" font-weight="bold" fill="#111" stroke="#111" stroke-width="0.45">D</text>
</g>
<rect x="0.5" y="0.5" width="519" height="351" fill="none" stroke="#3a3a3a" stroke-width="1"/>
</svg></div></body></html>
